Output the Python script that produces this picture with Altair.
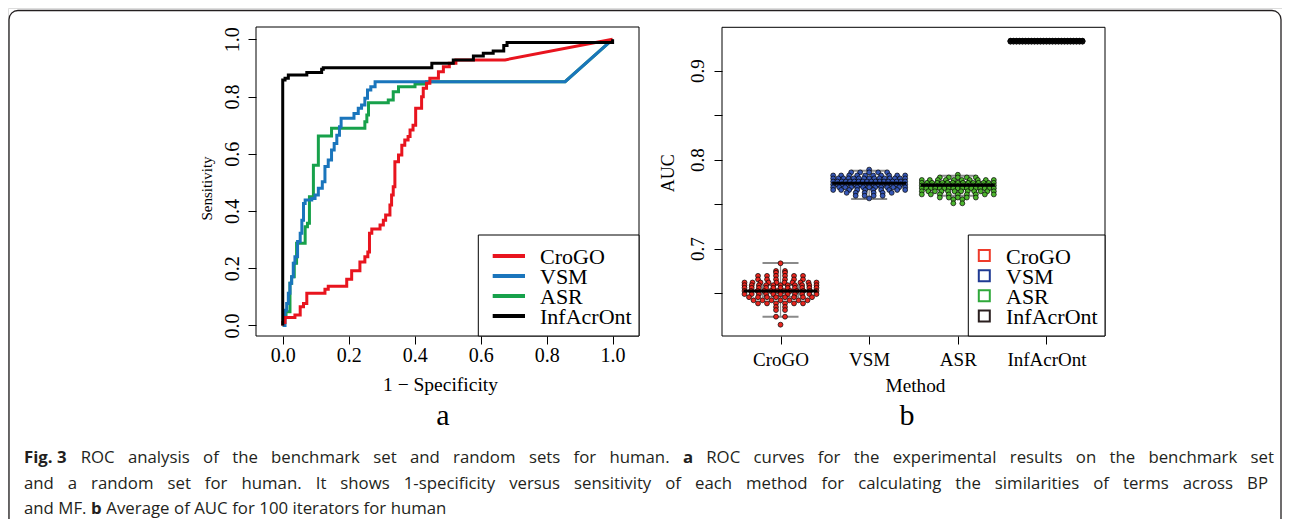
import json
import pandas as pd
import altair as alt

# ---------------- data ----------------
METHODS = ["CroGO", "VSM", "ASR", "InfAcrOnt"]

# ROC curves (1 - specificity, sensitivity), step corners
CROGO_FPR = [0.000, 0.000, 0.007, 0.007, 0.037, 0.037, 0.053, 0.053, 0.063, 0.063, 0.073, 0.073, 0.128, 0.128,
             0.138, 0.138, 0.194, 0.194, 0.209, 0.209, 0.234, 0.234, 0.249, 0.249, 0.258, 0.258, 0.263, 0.263,
             0.270, 0.270, 0.295, 0.295, 0.305, 0.305, 0.312, 0.312, 0.325, 0.325, 0.330, 0.330, 0.335, 0.335,
             0.340, 0.340, 0.351, 0.351, 0.361, 0.361, 0.370, 0.370, 0.380, 0.380, 0.386, 0.386, 0.395, 0.395,
             0.403, 0.403, 0.421, 0.421, 0.426, 0.426, 0.436, 0.436, 0.446, 0.446, 0.472, 0.472, 0.487, 0.487,
             0.505, 0.505, 0.525, 0.525, 0.674, 1.000]
CROGO_TPR = [0.000, 0.010, 0.010, 0.028, 0.028, 0.036, 0.036, 0.065, 0.065, 0.077, 0.077, 0.112, 0.112, 0.126,
             0.126, 0.137, 0.137, 0.161, 0.161, 0.191, 0.191, 0.222, 0.222, 0.240, 0.240, 0.257, 0.257, 0.322,
             0.322, 0.337, 0.337, 0.351, 0.351, 0.368, 0.368, 0.386, 0.386, 0.421, 0.421, 0.456, 0.456, 0.485,
             0.485, 0.572, 0.572, 0.596, 0.596, 0.630, 0.630, 0.648, 0.648, 0.660, 0.660, 0.683, 0.683, 0.700,
             0.700, 0.759, 0.759, 0.799, 0.799, 0.829, 0.829, 0.846, 0.846, 0.864, 0.864, 0.887, 0.887, 0.904,
             0.904, 0.916, 0.916, 0.928, 0.928, 1.000]

VSM_FPR = [0.000, 0.007, 0.007, 0.012, 0.012, 0.017, 0.017, 0.022, 0.022, 0.027, 0.027, 0.032, 0.032, 0.037,
           0.037, 0.045, 0.045, 0.053, 0.053, 0.058, 0.058, 0.063, 0.063, 0.068, 0.068, 0.088, 0.088, 0.098,
           0.098, 0.108, 0.108, 0.120, 0.120, 0.128, 0.128, 0.138, 0.138, 0.148, 0.148, 0.156, 0.156, 0.164,
           0.164, 0.172, 0.172, 0.177, 0.177, 0.216, 0.216, 0.229, 0.229, 0.239, 0.239, 0.249, 0.249, 0.257,
           0.257, 0.267, 0.267, 0.280, 0.280, 0.856, 1.000]
VSM_TPR = [0.000, 0.000, 0.053, 0.053, 0.077, 0.077, 0.112, 0.112, 0.147, 0.147, 0.170, 0.170, 0.217, 0.217,
           0.240, 0.240, 0.293, 0.293, 0.322, 0.322, 0.368, 0.368, 0.426, 0.426, 0.438, 0.438, 0.444, 0.444,
           0.456, 0.456, 0.479, 0.479, 0.502, 0.502, 0.555, 0.555, 0.578, 0.578, 0.613, 0.613, 0.636, 0.636,
           0.665, 0.665, 0.694, 0.694, 0.724, 0.724, 0.741, 0.741, 0.759, 0.759, 0.770, 0.770, 0.794, 0.794,
           0.823, 0.823, 0.834, 0.834, 0.852, 0.852, 1.000]

ASR_FPR = [0.000, 0.005, 0.005, 0.010, 0.010, 0.022, 0.022, 0.027, 0.027, 0.035, 0.035, 0.042, 0.042, 0.068,
           0.068, 0.075, 0.075, 0.081, 0.081, 0.093, 0.093, 0.108, 0.108, 0.148, 0.148, 0.249, 0.249, 0.255,
           0.255, 0.260, 0.260, 0.320, 0.320, 0.335, 0.335, 0.351, 0.351, 0.401, 0.401, 0.436, 0.436, 0.856,
           1.000]
ASR_TPR = [0.000, 0.000, 0.030, 0.030, 0.048, 0.048, 0.147, 0.147, 0.170, 0.170, 0.217, 0.217, 0.287, 0.287,
           0.345, 0.345, 0.357, 0.357, 0.450, 0.450, 0.560, 0.560, 0.662, 0.662, 0.689, 0.689, 0.712, 0.712,
           0.735, 0.735, 0.778, 0.778, 0.788, 0.788, 0.817, 0.817, 0.834, 0.834, 0.844, 0.844, 0.852, 0.852,
           1.000]

INF_FPR = [0.000, 0.000, 0.007, 0.007, 0.017, 0.017, 0.073, 0.073, 0.118, 0.118, 0.123, 0.123, 0.452, 0.452,
           0.517, 0.517, 0.578, 0.578, 0.608, 0.608, 0.638, 0.638, 0.670, 0.670, 0.680, 0.680, 1.000, 1.000]
INF_TPR = [0.000, 0.858, 0.858, 0.864, 0.864, 0.875, 0.875, 0.884, 0.884, 0.895, 0.895, 0.901, 0.901, 0.916,
           0.916, 0.928, 0.928, 0.942, 0.942, 0.951, 0.951, 0.959, 0.959, 0.978, 0.978, 0.989, 0.989, 1.000]

# AUC of the 100 iterations: AUC level and number of iterations at that level
CROGO_AUC = [0.6836, 0.6750, 0.6730, 0.6695, 0.6655, 0.6620, 0.6590, 0.6560, 0.6525, 0.6490, 0.6455,
             0.6420, 0.6385, 0.6345, 0.6310, 0.6236, 0.6146]
CROGO_N = [1, 2, 2, 6, 6, 10, 11, 11, 12, 11, 8, 7, 6, 2, 2, 2, 1]
VSM_AUC = [0.7889, 0.7858, 0.7823, 0.7790, 0.7755, 0.7722, 0.7690, 0.7660, 0.7628, 0.7595, 0.7565]
VSM_N = [1, 5, 10, 15, 18, 17, 13, 10, 6, 4, 1]
ASR_AUC = [0.7831, 0.7801, 0.7772, 0.7740, 0.7710, 0.7680, 0.7645, 0.7610, 0.7575, 0.7555, 0.7510]
ASR_N = [1, 5, 10, 15, 22, 17, 12, 9, 5, 2, 2]
INF_AUC = [0.9338, 0.9334, 0.9330, 0.9326]
INF_N = [25, 25, 25, 25]

# box plot statistics per method
BOX_LOW = [0.6236, 0.7558, 0.7595, 0.9326]
BOX_Q1 = [0.6460, 0.7690, 0.7670, 0.9329]
BOX_MED = [0.6525, 0.7735, 0.7712, 0.9332]
BOX_Q3 = [0.6590, 0.7780, 0.7750, 0.9335]
BOX_HIGH = [0.6840, 0.7876, 0.7821, 0.9338]

LEFT_X_TICKS = [0.0, 0.2, 0.4, 0.6, 0.8, 1.0]
LEFT_Y_TICKS = [0.0, 0.2, 0.4, 0.6, 0.8, 1.0]
RIGHT_Y_TICKS = [0.65, 0.70, 0.75, 0.80, 0.85, 0.90]

# caption (words starting with * are bold, ~ is a non-stretching space)
CAPTION_LINES = [
    "*Fig.~3 ROC analysis of the benchmark set and random sets for human. *a ROC curves for the "
    "experimental results on the benchmark set",
    "and a random set for human. It shows 1-specificity versus sensitivity of each method for calculating "
    "the similarities of terms across BP",
    "and MF. *b Average of AUC for 100 iterators for human",
]
CAPTION_JUSTIFY = [True, True, False]

# ---------------- styles / layout ----------------
ROC_COLORS = ["#E8141E", "#1A75BC", "#17A14B", "#000000"]
POINT_COLORS = ["#E8261F", "#3657B6", "#4DB52E", "#111111"]
SQUARE_COLORS = ["#EE3B2B", "#1F3A93", "#2FA83A", "#2A1F1F"]
SERIF = "Liberation Serif, Times New Roman, serif"
SANS = "Open Sans, Liberation Sans, sans-serif"
CAP_SIZE = 16.8
CAP_COLOR = "#231F20"

W, H = 1274, 511
LEFT_XD, LEFT_XR = [-0.081, 1.080], [248, 631]
LEFT_YD, LEFT_YR = [-0.037, 1.043], [328, 19]
RIGHT_XD, RIGHT_XR = [0.34, 4.66], [714, 1097]
RIGHT_YD, RIGHT_YR = [0.6019, 0.9488], [328, 19.3]
PX_PER_UNIT = (RIGHT_XR[1] - RIGHT_XR[0]) / (RIGHT_XD[1] - RIGHT_XD[0])
CAP_X0 = 16
CAP_X1 = [1266, 1260, None]
CAP_Y = [455, 480.5, 506]


def sc(domain, rng):
    return alt.Scale(domain=domain, range=rng, nice=False, zero=False)


def lx():
    return sc(LEFT_XD, LEFT_XR)


def ly():
    return sc(LEFT_YD, LEFT_YR)


def rx():
    return sc(RIGHT_XD, RIGHT_XR)


def ry():
    return sc(RIGHT_YD, RIGHT_YR)


AXIS_COMMON = dict(domain=False, grid=False, ticks=True, tickSize=8, tickColor="black", tickWidth=1,
                   labelColor="black", labelFont=SERIF, labelOverlap=False, labelBound=False,
                   labelFlush=False, titleColor="black", titleFont=SERIF, titleFontWeight="normal")

one = pd.DataFrame({"k": [0]})
layers = []

# frame around the figure
layers.append(alt.Chart(one).mark_rect(fillOpacity=0, stroke="#231F20", strokeWidth=1.3, cornerRadius=9).encode(
    x=alt.value(1), x2=alt.value(1273), y=alt.value(2.5), y2=alt.value(600)))

# ---------- panel a ----------
box_a = pd.DataFrame({"x1": [LEFT_XD[0]], "x2": [LEFT_XD[1]], "y1": [LEFT_YD[0]], "y2": [LEFT_YD[1]]})
layers.append(alt.Chart(box_a).mark_rect(fillOpacity=0, stroke="black", strokeWidth=1).encode(
    x=alt.X("x1:Q", scale=lx(), axis=alt.Axis(
        orient="bottom", offset=-183, values=LEFT_X_TICKS, format=".1f", labelFontSize=20,
        labelAlign="center", labelBaseline="alphabetic", labelPadding=17.7,
        title="1 − Specificity", titleFontSize=19.5, titleX=432, titleY=54.7,
        titleAlign="center", titleBaseline="alphabetic", **AXIS_COMMON)),
    x2="x2:Q",
    y=alt.Y("y1:Q", scale=ly(), axis=alt.Axis(
        orient="left", offset=-248, values=LEFT_Y_TICKS, format=".1f", labelFontSize=20, labelAngle=270,
        labelAlign="center", labelBaseline="alphabetic", labelPadding=9.7,
        title="Sensitivity", titleFontSize=15, titleAngle=270, titleX=-45, titleY=180,
        titleAlign="center", titleBaseline="alphabetic", **AXIS_COMMON)),
    y2="y2:Q"))

roc_sets = {
    "ASR": (ASR_FPR, ASR_TPR, ROC_COLORS[2]),
    "VSM": (VSM_FPR, VSM_TPR, ROC_COLORS[1]),
    "CroGO": (CROGO_FPR, CROGO_TPR, ROC_COLORS[0]),
    "InfAcrOnt": (INF_FPR, INF_TPR, ROC_COLORS[3]),
}
for name, (fx, ty, col) in roc_sets.items():
    d = pd.DataFrame({"fpr": fx, "tpr": ty, "i": list(range(len(fx)))})
    layers.append(alt.Chart(d).mark_line(strokeWidth=3, color=col, strokeJoin="miter").encode(
        x=alt.X("fpr:Q", scale=lx(), axis=None),
        y=alt.Y("tpr:Q", scale=ly(), axis=None),
        order=alt.Order("i:Q")))

legend_df = pd.DataFrame({"method": METHODS, "row": [0, 1, 2, 3]})
layers.append(alt.Chart(one).mark_rect(fill="white", stroke="black", strokeWidth=1).encode(
    x=alt.value(470.3), x2=alt.value(631), y=alt.value(227), y2=alt.value(328)))
layers.append(alt.Chart(legend_df).mark_rule(strokeWidth=4).encode(
    x=alt.value(484.7), x2=alt.value(517),
    y=alt.Y("row:Q", scale=alt.Scale(domain=[0, 3], range=[248, 308]), axis=None),
    color=alt.Color("method:N", scale=alt.Scale(domain=METHODS, range=ROC_COLORS), legend=None)))
layers.append(alt.Chart(legend_df).mark_text(align="left", baseline="middle", font=SERIF, fontSize=22,
                                             color="black").encode(
    x=alt.value(532),
    y=alt.Y("row:Q", scale=alt.Scale(domain=[0, 3], range=[248.5, 308.5]), axis=None),
    text="method:N"))

layers.append(alt.Chart(one).mark_text(text="a", font=SERIF, fontSize=30, align="center",
                                       baseline="alphabetic", color="black").encode(
    x=alt.value(435), y=alt.value(417)))

# ---------- panel b ----------
box_b = pd.DataFrame({"x1": [RIGHT_XD[0]], "x2": [RIGHT_XD[1]], "y1": [RIGHT_YD[0]], "y2": [RIGHT_YD[1]]})
label_expr = json.dumps(METHODS) + "[datum.value - 1]"
layers.append(alt.Chart(box_b).mark_rect(fillOpacity=0, stroke="black", strokeWidth=1).encode(
    x=alt.X("x1:Q", scale=rx(), axis=alt.Axis(
        orient="bottom", offset=-183, values=[1, 2, 3, 4], labelExpr=label_expr, labelFontSize=19,
        labelAlign="center", labelBaseline="alphabetic", labelPadding=21,
        title="Method", titleFontSize=19.3, titleX=907, titleY=55.7,
        titleAlign="center", titleBaseline="alphabetic", **AXIS_COMMON)),
    x2="x2:Q",
    y=alt.Y("y1:Q", scale=ry(), axis=alt.Axis(
        orient="left", offset=-714, values=RIGHT_Y_TICKS,
        labelExpr="round(datum.value * 100) % 10 == 0 ? format(datum.value, '.1f') : ''",
        labelFontSize=19, labelAngle=270, labelAlign="center", labelBaseline="alphabetic", labelPadding=10.7,
        title="AUC", titleFontSize=18, titleAngle=270, titleX=-49, titleY=164.7,
        titleAlign="center", titleBaseline="alphabetic", **AXIS_COMMON)),
    y2="y2:Q"))

stats = pd.DataFrame({"method": METHODS, "idx": [1, 2, 3, 4], "low": BOX_LOW, "q1": BOX_Q1,
                      "med": BOX_MED, "q3": BOX_Q3, "high": BOX_HIGH})
stats["bl"] = stats["idx"] - 18 / PX_PER_UNIT
stats["br"] = stats["idx"] + 18 / PX_PER_UNIT
stats["ml"] = stats["idx"] - 37 / PX_PER_UNIT
stats["mr"] = stats["idx"] + 37 / PX_PER_UNIT
caps = pd.concat([stats[["bl", "br", "low"]].rename(columns={"low": "v"}),
                  stats[["bl", "br", "high"]].rename(columns={"high": "v"})])

GRAY = "#8A8A8A"
layers.append(alt.Chart(stats).mark_rule(color=GRAY, strokeWidth=1.2).encode(
    x=alt.X("idx:Q", scale=rx(), axis=None), y=alt.Y("low:Q", scale=ry(), axis=None), y2="high:Q"))
layers.append(alt.Chart(caps).mark_rule(color=GRAY, strokeWidth=2).encode(
    x=alt.X("bl:Q", scale=rx(), axis=None), x2="br:Q", y=alt.Y("v:Q", scale=ry(), axis=None)))
layers.append(alt.Chart(stats).mark_rect(fillOpacity=0, stroke=GRAY, strokeWidth=1.5).encode(
    x=alt.X("bl:Q", scale=rx(), axis=None), x2="br:Q",
    y=alt.Y("q1:Q", scale=ry(), axis=None), y2="q3:Q"))

# swarm layout of the 100 AUC values per method
pts = []
for mi, (levels, counts) in enumerate([(CROGO_AUC, CROGO_N), (VSM_AUC, VSM_N),
                                       (ASR_AUC, ASR_N), (INF_AUC, INF_N)]):
    for v, n in zip(levels, counts):
        step = 9.0 if n <= 1 else min(9.0, 72.0 / (n - 1))
        for k in range(n):
            off = (k - (n - 1) / 2.0) * step
            pts.append({"method": METHODS[mi], "auc": v, "xp": mi + 1 + off / PX_PER_UNIT})
pts = pd.DataFrame(pts)
layers.append(alt.Chart(pts).mark_circle(size=24, opacity=1, stroke="black", strokeWidth=0.7).encode(
    x=alt.X("xp:Q", scale=rx(), axis=None),
    y=alt.Y("auc:Q", scale=ry(), axis=None),
    color=alt.Color("method:N", scale=alt.Scale(domain=METHODS, range=POINT_COLORS), legend=None)))

layers.append(alt.Chart(stats).mark_rule(color="black", strokeWidth=3).encode(
    x=alt.X("ml:Q", scale=rx(), axis=None), x2="mr:Q", y=alt.Y("med:Q", scale=ry(), axis=None)))

layers.append(alt.Chart(one).mark_rect(fill="white", stroke="black", strokeWidth=1).encode(
    x=alt.value(960.3), x2=alt.value(1097), y=alt.value(227), y2=alt.value(328)))
layers.append(alt.Chart(legend_df).mark_point(shape="square", filled=False, size=121, strokeWidth=2,
                                              opacity=1).encode(
    x=alt.value(976.3),
    y=alt.Y("row:Q", scale=alt.Scale(domain=[0, 3], range=[247.5, 308]), axis=None),
    color=alt.Color("method:N", scale=alt.Scale(domain=METHODS, range=SQUARE_COLORS), legend=None)))
layers.append(alt.Chart(legend_df).mark_text(align="left", baseline="middle", font=SERIF, fontSize=22,
                                             color="black").encode(
    x=alt.value(998),
    y=alt.Y("row:Q", scale=alt.Scale(domain=[0, 3], range=[248.5, 308.5]), axis=None),
    text="method:N"))

layers.append(alt.Chart(one).mark_text(text="b", font=SERIF, fontSize=30, align="center",
                                       baseline="alphabetic", color="black").encode(
    x=alt.value(899), y=alt.value(417)))

# ---------- caption: justified word layout ----------
# approximate Open Sans advance widths (units per 2048 em)
ADV = {" ": 532, ".": 545, ",": 502, "-": 659, "~": 532}
ADV.update({c: 1171 for c in "0123456789"})
ADV.update(dict(zip("abcdefghijklmnopqrstuvwxyz",
                    [1139, 1255, 975, 1255, 1149, 694, 1122, 1257, 518, 518, 1075, 518, 1905, 1257, 1237,
                     1255, 1255, 836, 977, 723, 1257, 1026, 1593, 1073, 1028, 977])))
ADV.update(dict(zip("ABCDEFGHIJKLMNOPQRSTUVWXYZ",
                    [1296, 1327, 1292, 1493, 1139, 1057, 1491, 1511, 571, 547, 1257, 1063, 1849, 1544, 1595,
                     1233, 1595, 1266, 1124, 1143, 1511, 1225, 1886, 1198, 1159, 1149])))


def tw(s, bold):
    return sum(ADV.get(c, 1100) for c in s) / 2048.0 * CAP_SIZE * (1.07 if bold else 1.0)


words = []
for li, line in enumerate(CAPTION_LINES):
    toks = []
    for t in line.split(" "):
        bold = t.startswith("*")
        t = t.lstrip("*")
        toks.append((t.replace("~", " "), bold, tw(t, bold)))
    natural = sum(t[2] for t in toks)
    space = ADV[" "] / 2048.0 * CAP_SIZE
    if CAPTION_JUSTIFY[li]:
        gap = (CAP_X1[li] - CAP_X0 - natural) / (len(toks) - 1)
    else:
        gap = space
    x = CAP_X0
    for ti, (t, bold, w) in enumerate(toks):
        last = CAPTION_JUSTIFY[li] and ti == len(toks) - 1
        words.append({"text": t, "bold": bold, "right": last,
                      "x": CAP_X1[li] if last else x, "y": CAP_Y[li]})
        x += w + gap
words = pd.DataFrame(words)
pix = alt.Scale(domain=[0, W], range=[0, W], nice=False, zero=False)
piy = alt.Scale(domain=[0, H], range=[0, H], nice=False, zero=False)
for bold in (False, True):
    for right in (False, True):
        sub = words[(words["bold"] == bold) & (words["right"] == right)]
        if len(sub) == 0:
            continue
        layers.append(alt.Chart(sub).mark_text(
            font=SANS, fontSize=CAP_SIZE, fontWeight="bold" if bold else "normal",
            align="right" if right else "left", baseline="alphabetic", color=CAP_COLOR).encode(
            x=alt.X("x:Q", scale=pix, axis=None), y=alt.Y("y:Q", scale=piy, axis=None), text="text:N"))

chart = alt.layer(*layers).resolve_scale(
    x="independent", y="independent", color="independent"
).resolve_axis(x="independent", y="independent").properties(
    width=W, height=H, autosize=alt.AutoSizeParams(type="none"), padding=0
).configure_view(strokeWidth=0).configure(background="white")

chart.save("out.html", embed_options={"renderer": "svg", "actions": False})
